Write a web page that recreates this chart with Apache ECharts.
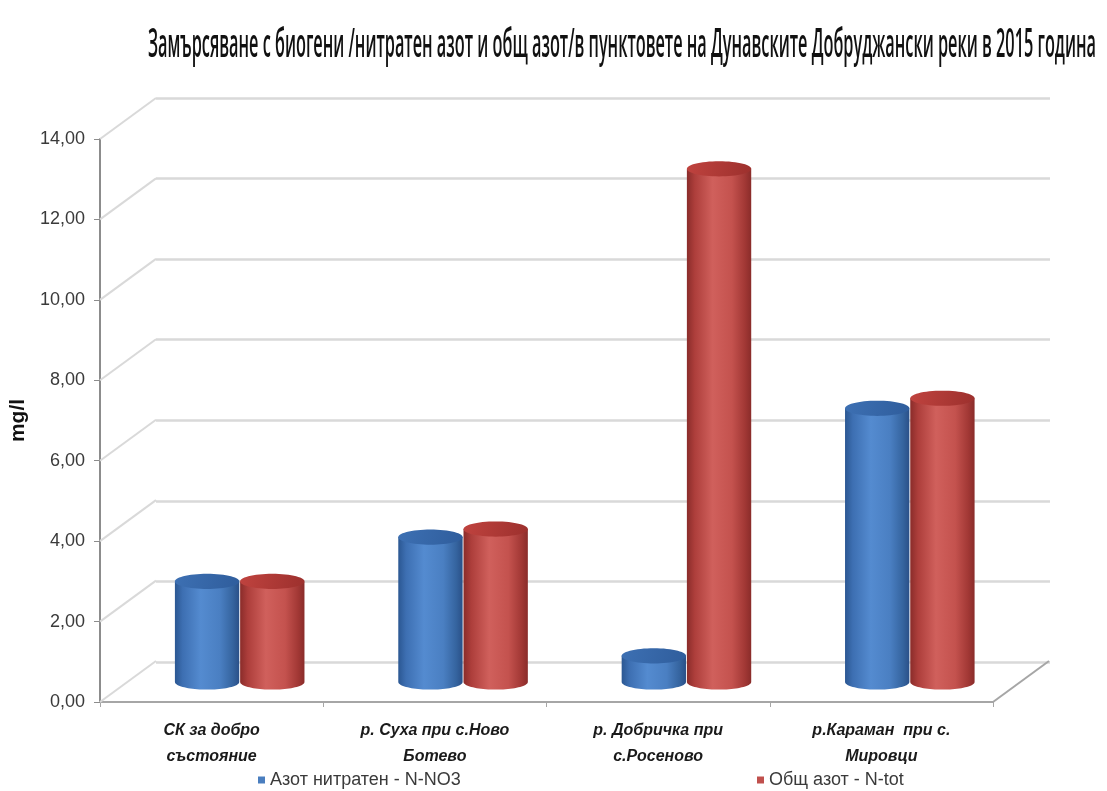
<!DOCTYPE html>
<html>
<head>
<meta charset="utf-8">
<script src="https://cdn.jsdelivr.net/npm/echarts@6/dist/echarts.min.js"></script>
<style>
html,body{margin:0;padding:0;background:#fff;}
#chart{width:1107px;height:791px;}
</style>
</head>
<body>
<div id="chart"></div>
<script>
// ---- data ----
const titleText = 'Замърсяване с биогени /нитратен азот и общ азот/в пунктовете на Дунавските Добруджански реки в 2015 година';
const categories = ['СК за добро\nсъстояние', 'р. Суха при с.Ново\nБотево', 'р. Добричка при\nс.Росеново', 'р.Караман  при с.\nМировци'];
const seriesNames = ['Азот нитратен - N-NO3', 'Общ азот - N-tot'];
const nitrateN = [2.5, 3.6, 0.65, 6.8];
const totalN = [2.5, 3.8, 12.75, 7.05];
const yTicks = [0, 2, 4, 6, 8, 10, 12, 14];
const yAxisName = 'mg/l';

// ---- layout (front plane, back wall, mid-depth plane for bars) ----
const front = {left: 100, right: 114, top: 139, bottom: 89};
const back = {left: 156, right: 57, top: 98, bottom: 129};
const mid = {
  left: (front.left + back.left) / 2, right: (front.right + back.right) / 2,
  top: (front.top + back.top) / 2, bottom: (front.bottom + back.bottom) / 2
};
const depthDX = back.left - front.left;
const depthDY = back.top - front.top;

const yMin = yTicks[0], yMax = yTicks[yTicks.length - 1], yStep = yTicks[1] - yTicks[0];

const chart = echarts.init(document.getElementById('chart'), null, {renderer: 'canvas'});

// title width fitting (condensed look)
const titleFont = '"Open Sans", "Noto Sans", sans-serif';
const titleSize = 40;
const titleWeight = 600;
const titleLeft = 148, titleRight = 1096;
const mctx = document.createElement('canvas').getContext('2d');
mctx.font = titleWeight + ' ' + titleSize + 'px ' + titleFont;
const titleScale = (titleRight - titleLeft) / mctx.measureText(titleText).width;

function ellipsePts(cx, cy, rx, ry, a0, a1, n) {
  const pts = [];
  for (let i = 0; i <= n; i++) {
    const t = a0 + (a1 - a0) * i / n;
    pts.push([cx + rx * Math.cos(t), cy + ry * Math.sin(t)]);
  }
  return pts;
}

function cylinder(side, bodyStops, topStops) {
  return function (params, api) {
    const cat = api.value(0), val = api.value(1);
    const top = api.coord([cat, val]);
    const base = api.coord([cat, 0]);
    const band = api.size([1, 0])[0];
    const w = band * 0.288;
    const rx = w / 2, ry = w * 0.118;
    const cx = top[0] + side * band * 0.146;
    const body = [[cx - rx, top[1]]]
      .concat(ellipsePts(cx, base[1], rx, ry, Math.PI, 0, 40))
      .concat([[cx + rx, top[1]]]);
    const cap = ellipsePts(cx, top[1], rx, ry, 0, Math.PI * 2, 60);
    return {
      type: 'group',
      children: [
        {type: 'polygon', shape: {points: body},
         style: {fill: new echarts.graphic.LinearGradient(0, 0, 1, 0, bodyStops)}},
        {type: 'polygon', shape: {points: cap},
         style: {fill: new echarts.graphic.LinearGradient(0, 0, 1, 1, topStops)}}
      ]
    };
  };
}

const blueBody = [
  {offset: 0, color: '#2b5792'}, {offset: 0.12, color: '#3d6fb2'},
  {offset: 0.4, color: '#548bd0'}, {offset: 0.7, color: '#4a7fc2'},
  {offset: 0.9, color: '#35649f'}, {offset: 1, color: '#2a5088'}
];
const blueTop = [{offset: 0, color: '#3d70b3'}, {offset: 1, color: '#2f5d9c'}];
const redBody = [
  {offset: 0, color: '#8a2c2a'}, {offset: 0.12, color: '#ad3e3b'},
  {offset: 0.4, color: '#d0605c'}, {offset: 0.7, color: '#c4524e'},
  {offset: 0.9, color: '#a23835'}, {offset: 1, color: '#8a2c2a'}
];
const redTop = [{offset: 0, color: '#c0433f'}, {offset: 1, color: '#9c302d'}];

const wallColor = '#d9d9d9';
const axisColor = '#8c8c8c';

function frameLines(params, api) {
  const v = api.value(1);
  const cs = params.coordSys;
  const y = api.coord([0, v])[1];
  const children = [{
    type: 'line',
    shape: {x1: cs.x, y1: y, x2: cs.x + depthDX, y2: y + depthDY},
    style: {stroke: wallColor, lineWidth: 2}
  }];
  if (v === yMin) {
    children.push({
      type: 'line',
      shape: {x1: cs.x + cs.width, y1: y, x2: cs.x + cs.width + depthDX, y2: y + depthDY},
      style: {stroke: '#a6a6a6', lineWidth: 2}
    });
  }
  return {type: 'group', children: children};
}

const fmt = v => v.toFixed(2).replace('.', ',');
const legendText = {fontFamily: '"Liberation Sans Narrow", "Liberation Sans", Arial, sans-serif', fontSize: 18, color: '#3a3a3a'};

const option = {
  backgroundColor: '#ffffff',
  animation: false,
  graphic: [{
    type: 'text',
    x: titleLeft, y: 46,
    scaleX: titleScale,
    style: {
      text: titleText,
      fontSize: titleSize,
      fontWeight: titleWeight,
      fontFamily: titleFont,
      fill: '#111111',
      align: 'left', verticalAlign: 'middle',
      textAlign: 'left', textVerticalAlign: 'middle'
    }
  }],
  legend: [{
    data: [seriesNames[0]], left: 253, top: 766,
    icon: 'rect', itemWidth: 7, itemHeight: 7, itemGap: 4,
    textStyle: legendText
  }, {
    data: [seriesNames[1]], left: 752, top: 766,
    icon: 'rect', itemWidth: 7, itemHeight: 7, itemGap: 4,
    textStyle: legendText
  }],
  grid: [
    {left: front.left, right: front.right, top: front.top, bottom: front.bottom},
    {left: back.left, right: back.right, top: back.top, bottom: back.bottom},
    {left: mid.left, right: mid.right, top: mid.top, bottom: mid.bottom}
  ],
  xAxis: [{
    gridIndex: 0, type: 'category', data: categories,
    axisLine: {show: true, lineStyle: {color: '#a6a6a6', width: 2}},
    axisTick: {show: true, length: 5, lineStyle: {color: '#a6a6a6'}},
    axisLabel: {
      margin: 16, interval: 0, color: '#1a1a1a', fontSize: 16, lineHeight: 26,
      fontWeight: 'bold', fontStyle: 'italic', fontFamily: '"Liberation Sans", Arial, sans-serif'
    },
    splitLine: {show: false}
  }, {
    gridIndex: 1, type: 'category', data: categories, show: false
  }, {
    gridIndex: 2, type: 'category', data: categories, show: false
  }],
  yAxis: [{
    gridIndex: 0, type: 'value', min: yMin, max: yMax, interval: yStep,
    name: yAxisName, nameLocation: 'middle', nameGap: 70,
    nameTextStyle: {fontSize: 21, fontWeight: 'bold', color: '#111', fontFamily: '"Liberation Sans", Arial, sans-serif'},
    axisLine: {show: true, lineStyle: {color: axisColor, width: 2}},
    axisTick: {show: true, length: 6, lineStyle: {color: axisColor}},
    axisLabel: {formatter: fmt, fontSize: 18, margin: 15, color: '#3a3a3a', fontFamily: '"Liberation Sans", Arial, sans-serif'},
    splitLine: {show: false}
  }, {
    gridIndex: 1, type: 'value', min: yMin, max: yMax, interval: yStep,
    axisLine: {show: false}, axisTick: {show: false}, axisLabel: {show: false},
    splitLine: {show: true, lineStyle: {color: wallColor, width: 2.5}}
  }, {
    gridIndex: 2, type: 'value', min: yMin, max: yMax, interval: yStep, show: false,
    splitLine: {show: false}
  }],
  series: [{
    type: 'custom', name: '_frame', silent: true,
    xAxisIndex: 0, yAxisIndex: 0,
    data: yTicks.map(v => [0, v]),
    renderItem: frameLines, z: 1
  }, {
    type: 'custom', name: seriesNames[0],
    xAxisIndex: 2, yAxisIndex: 2,
    itemStyle: {color: '#4a7ebf'},
    data: nitrateN.map((v, i) => [i, v]),
    encode: {x: 0, y: 1},
    renderItem: cylinder(-1, blueBody, blueTop), z: 3
  }, {
    type: 'custom', name: seriesNames[1],
    xAxisIndex: 2, yAxisIndex: 2,
    itemStyle: {color: '#c0504d'},
    data: totalN.map((v, i) => [i, v]),
    encode: {x: 0, y: 1},
    renderItem: cylinder(1, redBody, redTop), z: 4
  }]
};
chart.setOption(option);
</script>
</body>
</html>
